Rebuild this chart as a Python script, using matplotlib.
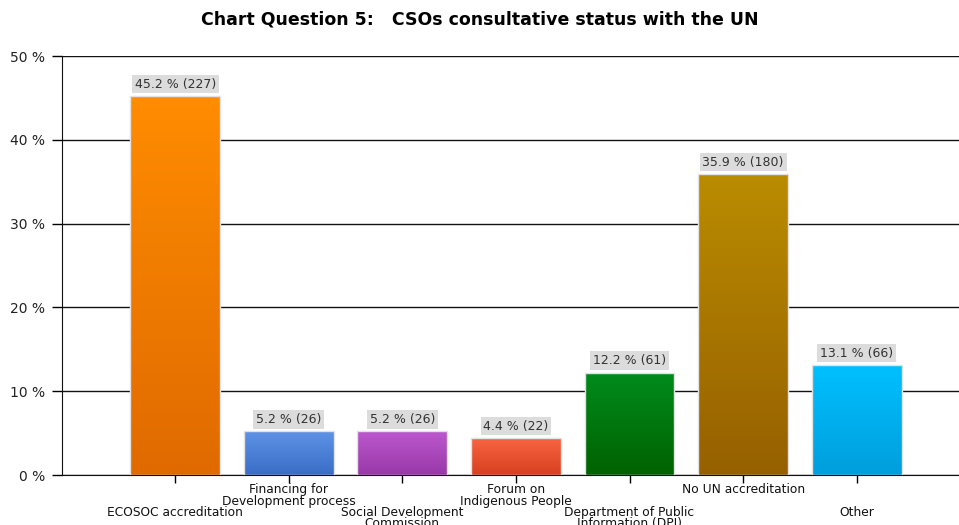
import matplotlib
matplotlib.use('Agg')
import matplotlib.pyplot as plt
import numpy as np
from matplotlib.colors import LinearSegmentedColormap

categories = ["ECOSOC accreditation", "Financing for\nDevelopment process",
              "Social Development\nCommission", "Forum on\nIndigenous People",
              "Department of Public\nInformation (DPI)", "No UN accreditation", "Other"]
pct = [45.2, 5.2, 5.2, 4.4, 12.2, 35.9, 13.1]
counts = [227, 26, 26, 22, 61, 180, 66]
# (top colour, bottom colour) per bar
colors = [("#FF8C00", "#E06A00"), ("#5E93E6", "#3A6DC6"), ("#BD58CE", "#9838A8"),
          ("#F86442", "#D8401E"), ("#008C1C", "#006200"), ("#BA8C00", "#966000"),
          ("#00C0FF", "#009EDC")]

plt.rcParams['font.family'] = ['DejaVu Sans']

fig = plt.figure(figsize=(9.59, 5.25), dpi=100)
ax = fig.add_axes([0.0647, 0.0952, 0.94, 0.7981])

x = np.arange(len(pct))
bars = ax.bar(x, pct, width=0.79, color='none', edgecolor='#E2E2E2', linewidth=1, zorder=3)

grad = np.linspace(0, 1, 256).reshape(-1, 1)
for b, (top, bot) in zip(bars, colors):
    cmap = LinearSegmentedColormap.from_list('g', [bot, top])
    x0, y0 = b.get_x(), b.get_y()
    w, h = b.get_width(), b.get_height()
    im = ax.imshow(grad, cmap=cmap, aspect='auto', origin='lower',
                   extent=[x0, x0 + w, y0, y0 + h], zorder=2)
    im.set_clip_path(b)

for i, (v, n) in enumerate(zip(pct, counts)):
    ax.annotate(f"{v} % ({n})", xy=(i, v), xytext=(0, 4), textcoords='offset points',
                ha='center', va='bottom', fontsize=9, color='#333333',
                bbox=dict(boxstyle='square,pad=0.22', fc='#DCDCDC', ec='none'), zorder=4)

# staggered category labels
for i, lab in enumerate(categories):
    off = 6 if i % 2 == 1 else 22
    ax.annotate(lab, xy=(i, 0), xycoords=('data', 'axes fraction'),
                xytext=(0, -off), textcoords='offset points',
                ha='center', va='top', fontsize=8.8, linespacing=0.85, color='#111111')

ax.set_xlim(-0.996, 6.94)
ax.set_ylim(0, 50)
ax.set_xticks(x)
ax.set_xticklabels([])
ax.set_yticks([0, 10, 20, 30, 40, 50])
ax.set_yticklabels([f"{t} %" for t in [0, 10, 20, 30, 40, 50]], fontsize=10, color='#222222')
ax.tick_params(axis='y', length=7, width=1, pad=5)
ax.tick_params(axis='x', length=6, width=1, direction='out')
ax.grid(axis='y', color='#111111', linewidth=1)
ax.set_axisbelow(True)
for s in ['top', 'right']:
    ax.spines[s].set_visible(False)
ax.spines['left'].set_color('#111111')
ax.spines['bottom'].set_color('#111111')

fig.text(0.5, 0.962, "Chart Question 5:   CSOs consultative status with the UN",
         ha='center', va='center', fontsize=12.5, fontweight='bold')

plt.savefig('out.png', dpi=100)
